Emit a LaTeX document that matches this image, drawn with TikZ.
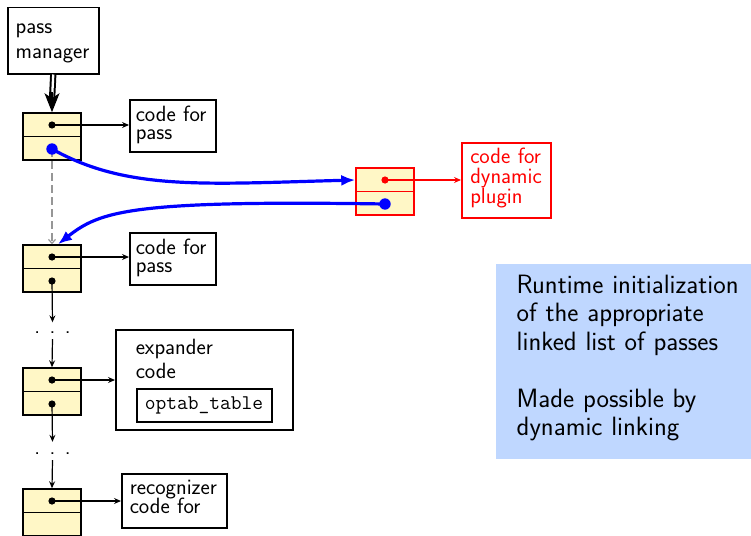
\documentclass[tikz,border=0pt]{standalone}
\usepackage{fontspec}
\usetikzlibrary{arrows.meta,calc}

\definecolor{cellfill}{RGB}{255,247,198}
\definecolor{notefill}{RGB}{191,215,255}
\definecolor{linkgray}{RGB}{150,150,150}

% struts that fix the distance from the box top to the first baseline
% and from the last baseline to the box bottom
\newcommand{\tstrut}[1]{\rule{0pt}{#1}}
\newcommand{\bstrut}[1]{\rule[-#1]{0pt}{#1}}
% keep the given baselineskip even when lines nearly touch
\newcommand{\tightlines}{\lineskiplimit-30pt\relax}

% one element of the pass list: a two-row cell with named row coordinates
\newcommand{\passcell}[4]{%
  \node[cellbox, draw=#4] (#1) at (#2,#3) {};
  \draw[draw=#4, line width=1.3pt] (#1.west) -- (#1.east);
  \coordinate (#1-a) at ($(#1.center)+(0,-11.5)$);
  \coordinate (#1-b) at ($(#1.center)+(0,12.5)$);
}

\tikzset{
  box/.style={draw, line width=1.5pt, inner ysep=0pt, align=left,
    anchor=north west, font=\sffamily\fontsize{22.1}{#1}\selectfont\tightlines},
  box/.default=20pt,
  ttbox/.style={draw, line width=1.5pt, inner ysep=0pt, align=left,
    anchor=north west, font=\ttfamily\fontsize{20.9}{24}\selectfont},
  note/.style={fill=notefill, inner ysep=0pt, inner xsep=20.5pt, align=left,
    anchor=north west, text width=240pt,
    font=\sffamily\fontsize{26.5}{28.5}\selectfont\tightlines},
  cellbox/.style={fill=cellfill, line width=1.5pt, minimum width=58pt,
    minimum height=47pt, inner sep=0pt},
  ptr/.style={line width=1.2pt, -{Stealth[length=7pt,width=6pt,inset=2.5pt]}},
  gptr/.style={line width=1.2pt, draw=linkgray, dash pattern=on 8pt off 4pt,
    -{Straight Barb[length=4pt,width=7pt]}},
  blink/.style={draw=blue, line width=3.2pt, -{Latex[length=14pt,width=11pt]}},
  dotrow/.style={inner sep=0pt, anchor=base, text height=#1, text depth=5.5pt,
    font=\sffamily\fontsize{22.1}{24}\selectfont},
}

\begin{document}
\begin{tikzpicture}[x=1pt,y=-1pt]
\useasboundingbox (0,0) rectangle (751,535);

% explanatory note
\node[note] (note) at (496,264) {\tstrut{29pt}Runtime initialization\\of the appropriate\\linked list of passes\\[28.5pt]Made possible by\\dynamic linking\bstrut{23pt}};

% boxes
\node[box=25pt, text width=75pt, inner xsep=8pt] (pm) at (7,7)
  {\tstrut{26pt}pass\\manager\bstrut{15pt}};
\node[box=17.3pt, text width=74pt, inner xsep=6pt] (code1) at (129,99)
  {\tstrut{22pt}\mbox{code for}\\pass\bstrut{12.7pt}};
\node[box=17.3pt, text width=74pt, inner xsep=6pt] (code2) at (129,232)
  {\tstrut{22pt}\mbox{code for}\\pass\bstrut{12.7pt}};
\node[box=20pt, text width=72pt, inner xsep=8.5pt, draw=red, text=red] (plug) at (461,142)
  {\tstrut{21pt}\mbox{code for}\\dynamic\\plugin\bstrut{14pt}};
\node[box=24pt, text width=137pt, inner xsep=20pt] (exp) at (115,329)
  {\tstrut{25pt}expander\\code\bstrut{51pt}};
\node[ttbox, text width=119pt, inner xsep=8pt] (optab) at (136,388)
  {\tstrut{20.3pt}optab\_table\bstrut{12.7pt}};
\node[box=19pt, text width=89pt, inner xsep=8pt] (rec) at (121,473)
  {\tstrut{21pt}recognizer\\\mbox{code for}\bstrut{14pt}};

% pass list cells
\passcell{c1}{52}{136.5}{black}
\passcell{c2}{52}{268.5}{black}
\passcell{c3}{52}{391.5}{black}
\passcell{c4}{52}{512.5}{black}
\passcell{r}{385}{191.5}{red}

% elided parts of the list
\node[dotrow=11pt] (dots1) at (52.5,333.5) {.\hspace{9.5pt}.\hspace{9.5pt}.};
\node[dotrow=12.5pt] (dots2) at (52.5,454.5) {.\hspace{9.5pt}.\hspace{9.5pt}.};

% pass manager head pointer (double shaft)
\coordinate (headend) at ($(c1.north)+(0,-12)$);
\draw[line width=2pt, double distance=2.3pt] (pm.south) -- (headend);
\draw[line width=1.3pt, -{Stealth[length=19pt,width=15pt,inset=5pt]}]
  ($(c1.north)+(0,-20)$) -- (c1.north);

% pointers to code
\draw[ptr] (c1-a) -- (c1-a -| code1.west);
\draw[ptr] (c2-a) -- (c2-a -| code2.west);
\draw[ptr] (c3-a) -- (c3-a -| exp.west);
\draw[ptr] (c4-a) -- (c4-a -| rec.west);
\draw[ptr, draw=red] (r-a) -- (r-a -| plug.west);

% next pointers
\draw[gptr] (c1-b) -- (c2.north);
\draw[ptr] (c2-b) -- (dots1.north);
\draw[ptr] (dots1.south) -- (c3.north);
\draw[ptr] (c3-b) -- (dots2.north);
\draw[ptr] (dots2.south) -- (c4.north);

% dynamically inserted pass
\draw[blink] (c1-b) .. controls +(75,42) and +(-150,4) .. (r-a -| r.west);
\draw[blink] (r-b) .. controls +(-255,-4) and +(42,-33) .. ($(c2.north)+(6,0)$);

% row dots
\foreach \c in {c1-a,c2-a,c2-b,c3-a,c3-b,c4-a}
  \fill (\c) circle[radius=3.6pt];
\fill[red] (r-a) circle[radius=3.6pt];
\fill[blue] (c1-b) circle[radius=5.7pt];
\fill[blue] (r-b) circle[radius=5.7pt];
\end{tikzpicture}
\end{document}
